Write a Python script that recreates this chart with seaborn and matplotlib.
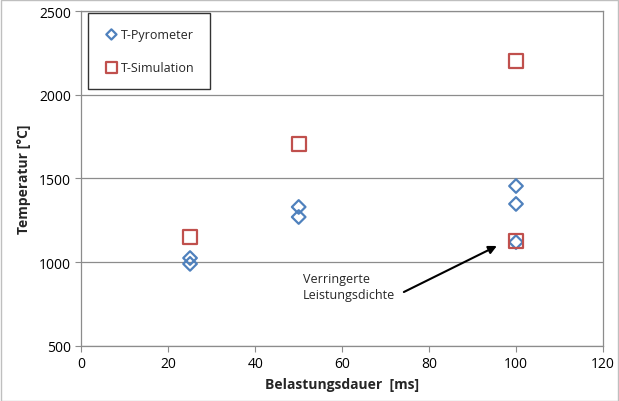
import matplotlib
matplotlib.use("Agg")
import matplotlib.pyplot as plt
import seaborn as sns
import pandas as pd

# Messwerte
pyro_dauer = [25, 25, 50, 50, 100, 100, 100]
pyro_temp = [1025, 990, 1330, 1270, 1455, 1348, 1120]
sim_dauer = [25, 50, 100, 100]
sim_temp = [1150, 1705, 2200, 1125]

series_names = ["T-Pyrometer", "T-Simulation"]
x_ticks = [0, 20, 40, 60, 80, 100, 120]
y_ticks = [500, 1000, 1500, 2000, 2500]

df = pd.DataFrame({
    "Belastungsdauer": pyro_dauer + sim_dauer,
    "Temperatur": pyro_temp + sim_temp,
    "Reihe": [series_names[0]] * len(pyro_dauer) + [series_names[1]] * len(sim_dauer),
})

sns.set_style("white")
plt.rcParams["font.family"] = ["Open Sans", "DejaVu Sans"]

fig = plt.figure(figsize=(6.19, 4.02), dpi=100)
ax = fig.add_axes([0.1315, 0.137, 0.8425, 0.833])

palette = {series_names[0]: "#4F81BD", series_names[1]: "#C0504D"}
markers = {series_names[0]: "D", series_names[1]: "s"}
sizes = {series_names[0]: 48, series_names[1]: 100}

for name in series_names:
    sub = df[df["Reihe"] == name]
    sns.scatterplot(
        data=sub, x="Belastungsdauer", y="Temperatur", ax=ax,
        marker=markers[name], s=sizes[name],
        facecolor="none", edgecolor=palette[name], linewidth=1.6,
        label=name, zorder=3,
    )

ax.set_xlim(0, 120)
ax.set_ylim(500, 2500)
ax.set_xticks(x_ticks)
ax.set_yticks(y_ticks)
ax.tick_params(axis="both", labelsize=10, colors="#8c8c8c", length=4,
               direction="out", bottom=True, left=True, width=0.8)
for lbl in ax.get_xticklabels() + ax.get_yticklabels():
    lbl.set_color("black")
ax.yaxis.grid(True, color="#8c8c8c", linewidth=0.9)
ax.set_axisbelow(True)
for side in ["left", "bottom", "right", "top"]:
    ax.spines[side].set_color("#8c8c8c")
    ax.spines[side].set_linewidth(0.9)

ax.set_xlabel("Belastungsdauer  [ms]", fontsize=10, fontweight="bold", labelpad=4)
ax.set_ylabel("Temperatur [°C]", fontsize=10, fontweight="bold", labelpad=6)

leg = ax.legend(loc="upper left", bbox_to_anchor=(0.012, 0.995), frameon=True,
                fancybox=False, edgecolor="black", fontsize=9,
                handletextpad=0.1, labelspacing=1.6, borderpad=1.2,
                handlelength=1.4, borderaxespad=0.0, markerscale=0.75)
leg.get_frame().set_linewidth(1.0)

# Hinweis auf die Messung mit verringerter Leistungsdichte
ax.text(51, 852, "Verringerte\nLeistungsdichte", ha="left", va="center", fontsize=9,
        linespacing=1.3)
ax.annotate("", xy=(95.6, 1097), xytext=(74.2, 822),
            arrowprops=dict(arrowstyle="-|>", color="black", lw=1.5,
                            mutation_scale=12, shrinkA=0, shrinkB=0))

fig.patches.append(plt.Rectangle((0.001, 0.001), 0.997, 0.997, transform=fig.transFigure,
                                 fill=False, edgecolor="#bfbfbf", linewidth=1))

fig.savefig("out.png", dpi=100)
